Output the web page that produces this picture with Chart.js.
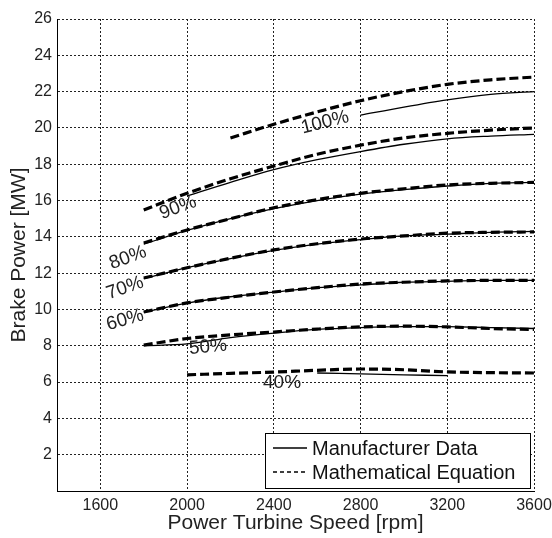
<!DOCTYPE html>
<html>
<head>
<meta charset="utf-8">
<script src="https://cdn.jsdelivr.net/npm/chart.js@4.4.1/dist/chart.umd.min.js"></script>
<style>
  html, body { margin: 0; padding: 0; background: #fff; }
</style>
</head>
<body>
<canvas id="powerChart" width="552" height="538"></canvas>
<script>
// Brake power vs power turbine speed, per load level
const speeds = [1800, 2000, 2200, 2400, 2600, 2800, 3000, 3200, 3400, 3600];
const xTicks = [1600, 2000, 2400, 2800, 3200, 3600];
const yTicks = [2, 4, 6, 8, 10, 12, 14, 16, 18, 20, 22, 24, 26];

// Mathematical equation (dashed)
const eq100 = [null, null, 19.45, 20.2, 20.88, 21.5, 22.0, 22.4, 22.65, 22.8];
const eq90 = [15.48, 16.4, 17.2, 17.9, 18.55, 19.05, 19.45, 19.7, 19.88, 20.0];
const eq80 = [13.66, 14.38, 15.0, 15.6, 16.05, 16.4, 16.65, 16.86, 16.95, 17.0];
const eq70 = [11.73, 12.3, 12.82, 13.28, 13.62, 13.88, 14.05, 14.2, 14.25, 14.27];
const eq60 = [9.86, 10.36, 10.68, 10.96, 11.2, 11.4, 11.5, 11.57, 11.6, 11.6];
const eq50 = [8.04, 8.4, 8.6, 8.76, 8.92, 9.04, 9.08, 9.04, 8.95, 8.9];
const eq40 = [null, 6.4, 6.48, 6.55, 6.65, 6.72, 6.68, 6.56, 6.52, 6.5];

// Manufacturer data (solid)
const mfr100 = [null, null, null, null, null, 20.7, 21.15, 21.55, 21.85, 22.0];
const mfr90 = [null, 16.25, 17.0, 17.7, 18.25, 18.7, 19.1, 19.4, 19.55, 19.65];
const mfr80 = [13.6, 14.35, 15.0, 15.55, 16.0, 16.35, 16.6, 16.8, 16.95, 17.0];
const mfr70 = [11.7, 12.3, 12.8, 13.25, 13.6, 13.85, 14.05, 14.15, 14.25, 14.3];
const mfr60 = [9.85, 10.35, 10.7, 10.95, 11.2, 11.35, 11.5, 11.55, 11.6, 11.6];
const mfr50 = [8.0, 8.1, 8.45, 8.7, 8.9, 9.0, 9.05, 9.05, 9.0, 8.95];
const mfr40 = [null, null, null, null, 6.5, 6.45, 6.4, 6.35, null, null];

// Contour labels and where they sit (data coordinates)
const loadNames = ['100%', '90%', '80%', '70%', '60%', '50%', '40%'];
const labelSpeed = [2636, 1958, 1727, 1714, 1714, 2096, 2438];
const labelPower = [20.3, 15.6, 12.84, 11.18, 9.42, 7.93, 5.95];

const legendNames = ['Manufacturer Data', 'Mathematical Equation'];

const FONT = 'Arial, "Liberation Sans", sans-serif';
const labelAngles = [-14, -20, -20, -19, -16, -5, 0];

function toPoints(values) {
    return speeds.map((s, i) => ({ x: s, y: values[i] }));
}

function solidSet(values) {
    return {
        data: toPoints(values),
        borderColor: '#000',
        borderWidth: 1.3,
        pointRadius: 0,
        showLine: true,
        spanGaps: false,
        cubicInterpolationMode: 'monotone'
    };
}

function dashedSet(values) {
    return {
        data: toPoints(values),
        borderColor: '#000',
        borderWidth: 3.2,
        borderDash: [9, 4],
        pointRadius: 0,
        showLine: true,
        spanGaps: false,
        cubicInterpolationMode: 'monotone'
    };
}

const contourLabels = {
    id: 'contourLabels',
    afterDatasetsDraw(chart) {
        const { ctx, scales: { x, y } } = chart;
        ctx.save();
        ctx.font = '19px ' + FONT;
        ctx.fillStyle = '#222';
        ctx.textAlign = 'center';
        ctx.textBaseline = 'middle';
        loadNames.forEach((name, i) => {
            ctx.save();
            ctx.translate(x.getPixelForValue(labelSpeed[i]), y.getPixelForValue(labelPower[i]));
            ctx.rotate(labelAngles[i] * Math.PI / 180);
            ctx.fillText(name, 0, 0);
            ctx.restore();
        });
        ctx.restore();
    }
};

const boxLegend = {
    id: 'boxLegend',
    afterDraw(chart) {
        const { ctx } = chart;
        const left = 265, top = 433, width = 265, height = 55;
        ctx.save();
        ctx.fillStyle = '#fff';
        ctx.fillRect(left, top, width, height);
        ctx.strokeStyle = '#000';
        ctx.lineWidth = 1;
        ctx.strokeRect(left + 0.5, top + 0.5, width, height);
        ctx.font = '20px ' + FONT;
        ctx.fillStyle = '#111';
        ctx.textBaseline = 'middle';
        legendNames.forEach((name, i) => {
            const yy = top + 15 + i * 24;
            ctx.beginPath();
            ctx.lineWidth = 1.3;
            ctx.setLineDash(i === 0 ? [] : [4, 3]);
            ctx.moveTo(left + 8, yy);
            ctx.lineTo(left + 42, yy);
            ctx.stroke();
            ctx.setLineDash([]);
            ctx.fillText(name, left + 47, yy + 1);
        });
        ctx.restore();
    }
};

new Chart(document.getElementById('powerChart'), {
    type: 'scatter',
    data: {
        datasets: [
            solidSet(mfr100), dashedSet(eq100),
            solidSet(mfr90), dashedSet(eq90),
            solidSet(mfr80), dashedSet(eq80),
            solidSet(mfr70), dashedSet(eq70),
            solidSet(mfr60), dashedSet(eq60),
            solidSet(mfr50), dashedSet(eq50),
            solidSet(mfr40), dashedSet(eq40)
        ]
    },
    options: {
        responsive: false,
        animation: false,
        layout: { padding: { top: 19, right: 18, left: 0, bottom: 0 } },
        plugins: {
            legend: { display: false },
            tooltip: { enabled: false }
        },
        scales: {
            x: {
                type: 'linear',
                min: 1400,
                max: 3600,
                afterBuildTicks: scale => { scale.ticks = xTicks.map(v => ({ value: v })); },
                afterFit: scale => {
                    scale.height = 47;
                    scale.paddingLeft = 0;
                    scale.paddingRight = 0;
                },
                grid: { color: '#222', lineWidth: 1, drawTicks: false },
                border: { display: true, color: '#000', width: 1, dash: [2, 2] },
                ticks: {
                    color: '#222',
                    font: { family: FONT, size: 16 },
                    padding: 5,
                    maxRotation: 0,
                    callback: v => String(v)
                },
                title: {
                    display: true,
                    text: 'Power Turbine Speed [rpm]',
                    color: '#222',
                    font: { family: FONT, size: 21 },
                    padding: { top: 0, bottom: 2 }
                }
            },
            y: {
                type: 'linear',
                min: 0,
                max: 26,
                afterBuildTicks: scale => { scale.ticks = yTicks.map(v => ({ value: v })); },
                afterFit: scale => {
                    scale.width = 57;
                    scale.paddingTop = 0;
                    scale.paddingBottom = 0;
                },
                grid: { color: '#222', lineWidth: 1, drawTicks: false },
                border: { display: true, color: '#000', width: 1, dash: [2, 2] },
                ticks: {
                    color: '#222',
                    font: { family: FONT, size: 16 },
                    padding: 5,
                    callback: v => String(v)
                },
                title: {
                    display: true,
                    text: 'Brake Power [MW]',
                    color: '#222',
                    font: { family: FONT, size: 21 },
                    padding: { top: 7, bottom: 0 }
                }
            }
        }
    },
    plugins: [contourLabels, boxLegend]
});
</script>
</body>
</html>
